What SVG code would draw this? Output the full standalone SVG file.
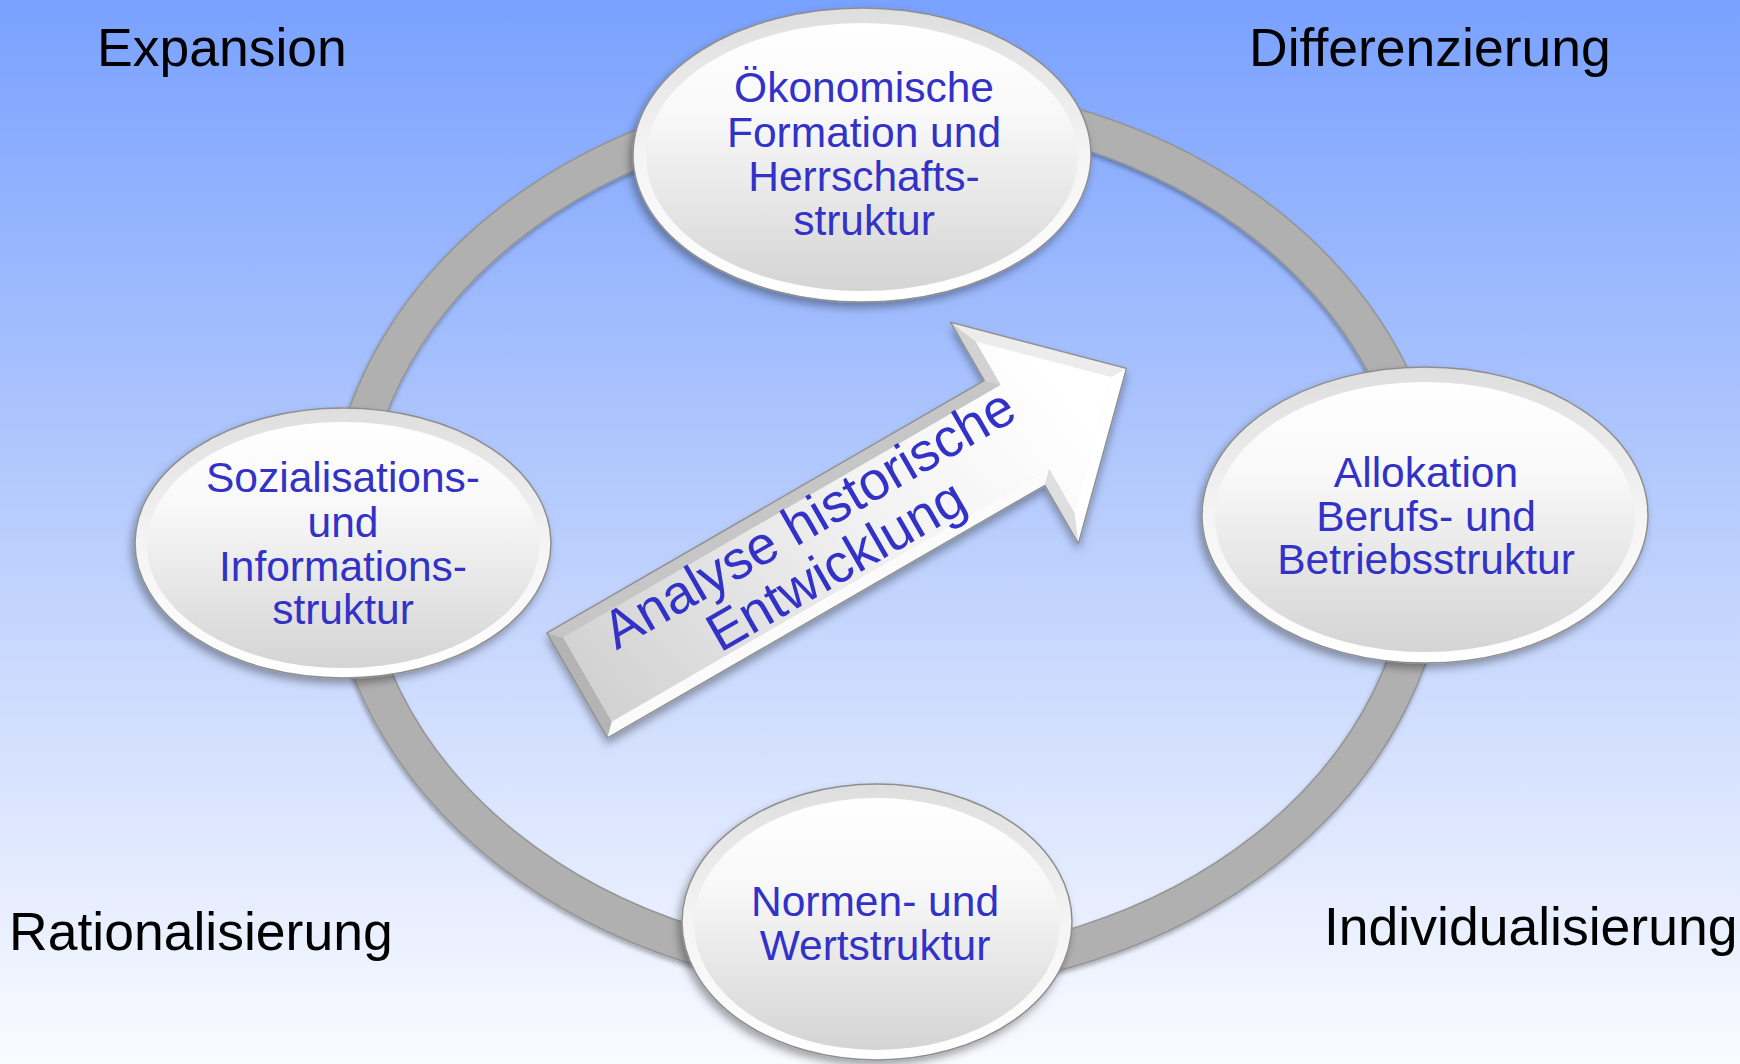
<svg xmlns="http://www.w3.org/2000/svg" width="1740" height="1064" viewBox="0 0 1740 1064">
  <defs>
    <linearGradient id="bg" x1="0" y1="0" x2="0" y2="1">
      <stop offset="0" stop-color="#79a1fe"/>
      <stop offset="0.5" stop-color="#bacefd"/>
      <stop offset="1" stop-color="#fafbff"/>
    </linearGradient>
    <linearGradient id="rim" x1="0" y1="0" x2="0" y2="1">
      <stop offset="0" stop-color="#dedede"/>
      <stop offset="0.5" stop-color="#f4f4f4"/>
      <stop offset="1" stop-color="#ffffff"/>
    </linearGradient>
    <linearGradient id="body" x1="0" y1="0" x2="0" y2="1">
      <stop offset="0" stop-color="#ffffff"/>
      <stop offset="0.35" stop-color="#f8f8f8"/>
      <stop offset="1" stop-color="#d4d4d4"/>
    </linearGradient>
    <linearGradient id="face" gradientUnits="userSpaceOnUse" x1="0" y1="110" x2="560" y2="0">
      <stop offset="0" stop-color="#d0d0d0"/>
      <stop offset="0.6" stop-color="#f2f2f2"/>
      <stop offset="1" stop-color="#ffffff"/>
    </linearGradient>
    <filter id="shadow" x="-20%" y="-20%" width="140%" height="150%">
      <feDropShadow dx="-3" dy="5" stdDeviation="4" flood-color="#000" flood-opacity="0.35"/>
    </filter>
    <filter id="ringShadow" x="-10%" y="-10%" width="120%" height="120%">
      <feDropShadow dx="-1" dy="3" stdDeviation="2" flood-color="#000" flood-opacity="0.3"/>
    </filter>
  </defs>
  <style>
    .outer { fill: url(#rim); stroke: #8e8e8e; stroke-width: 1.5; }
    .inner { fill: url(#body); }
    .ntext { font-family: "Liberation Sans", Arial, sans-serif; font-size: 42.5px; fill: #3232c8; text-anchor: middle; }
    .corner { font-family: "Liberation Sans", Arial, sans-serif; font-size: 53.5px; fill: #000; }
    .atext { font-family: "Liberation Sans", Arial, sans-serif; font-size: 54px; fill: #3232c8; text-anchor: middle; }
  </style>

  <rect x="0" y="0" width="1740" height="1064" fill="url(#bg)"/>

  <g id="connectors">
    <g id="ring" filter="url(#ringShadow)">
      <ellipse cx="887" cy="537" rx="542" ry="437" fill="none" stroke="#b0b0b0" stroke-width="37"/>
      <ellipse cx="887" cy="537" rx="560.5" ry="455.5" fill="none" stroke="#959595" stroke-width="1.5"/>
      <ellipse cx="887" cy="537" rx="523.5" ry="418.5" fill="none" stroke="#959595" stroke-width="1.5"/>
    </g>
  </g>

  <g id="arrow" transform="translate(547,633) rotate(-30)">
    <g filter="url(#shadow)">
      <polygon points="0,0 505,0 505,-67 634,60.5 505,188 505,121 0,121" fill="#e6e6e6" stroke="#8f8f8f" stroke-width="1.2"/>
    </g>
    <polygon points="0,0 505,0 517,12 12,12" fill="#c6c6c6"/>
    <polygon points="0,0 12,12 12,109 0,121" fill="#b4b4b4"/>
    <polygon points="0,121 12,109 517,109 505,121" fill="#fbfbfb"/>
    <polygon points="505,0 505,-67 517,-38 517,12" fill="#d2d2d2"/>
    <polygon points="505,-67 634,60.5 617,60.5 517,-38" fill="#ececec"/>
    <polygon points="634,60.5 505,188 517,159 617,60.5" fill="#ffffff"/>
    <polygon points="505,188 505,121 517,109 517,159" fill="#dedede"/>
    <polygon points="12,12 517,12 517,-38 617,60.5 517,159 517,109 12,109" fill="url(#face)"/>
    <polygon points="0,0 505,0 505,-67 634,60.5 505,188 505,121 0,121" fill="none" stroke="#8f8f8f" stroke-width="1.2"/>
    <text class="atext" x="284" y="50">Analyse historische</text>
    <text class="atext" x="284" y="104">Entwicklung</text>
  </g>

  <g id="node-top">
    <g filter="url(#shadow)"><ellipse class="outer" cx="862" cy="155" rx="229" ry="147"/></g>
    <ellipse class="inner" cx="862" cy="157" rx="216" ry="134"/>
    <text class="ntext" x="864" y="102">Ökonomische</text>
    <text class="ntext" x="864" y="147">Formation und</text>
    <text class="ntext" x="864" y="191">Herrschafts-</text>
    <text class="ntext" x="864" y="235">struktur</text>
  </g>

  <g id="node-left">
    <g filter="url(#shadow)"><ellipse class="outer" cx="343" cy="543" rx="208" ry="135"/></g>
    <ellipse class="inner" cx="343" cy="545" rx="196" ry="123"/>
    <text class="ntext" x="343" y="492">Sozialisations-</text>
    <text class="ntext" x="343" y="537">und</text>
    <text class="ntext" x="343" y="581">Informations-</text>
    <text class="ntext" x="343" y="624">struktur</text>
  </g>

  <g id="node-right">
    <g filter="url(#shadow)"><ellipse class="outer" cx="1425" cy="515" rx="223" ry="148"/></g>
    <ellipse class="inner" cx="1425" cy="517" rx="210" ry="135"/>
    <text class="ntext" x="1426" y="487">Allokation</text>
    <text class="ntext" x="1426" y="531">Berufs- und</text>
    <text class="ntext" x="1426" y="574">Betriebsstruktur</text>
  </g>

  <g id="node-bottom">
    <g filter="url(#shadow)"><ellipse class="outer" cx="877" cy="922" rx="195" ry="138"/></g>
    <ellipse class="inner" cx="877" cy="924" rx="183" ry="126"/>
    <text class="ntext" x="875" y="916">Normen- und</text>
    <text class="ntext" x="875" y="960">Wertstruktur</text>
  </g>

  <g id="labels">
    <text class="corner" x="97" y="66">Expansion</text>
    <text class="corner" x="1249" y="66">Differenzierung</text>
    <text class="corner" x="9" y="950">Rationalisierung</text>
    <text class="corner" x="1324" y="945">Individualisierung</text>
  </g>
</svg>
